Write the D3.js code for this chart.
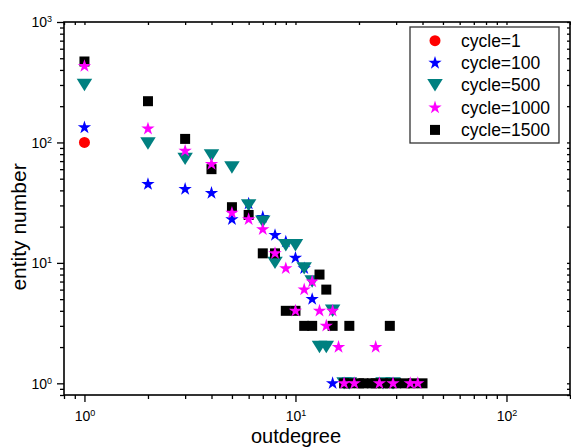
<!DOCTYPE html>
<html>
<head>
<meta charset="utf-8">
<script src="https://cdn.jsdelivr.net/npm/d3@7"></script>
<style>
body { margin: 0; background: #fff; }
text { font-family: "Liberation Sans", Arial, sans-serif; fill: #000; }
</style>
</head>
<body>
<script>
// series names, in legend order
var seriesNames = ["cycle=1", "cycle=100", "cycle=500", "cycle=1000", "cycle=1500"];

// [outdegree, entity number]
var cycle1 = [[1, 100]];
var cycle100 = [[1, 133], [2, 45], [3, 41], [4, 38], [5, 23], [6, 31], [7, 24], [8, 17],
  [9, 15], [10, 11], [11, 9], [12, 5], [15, 1]];
var cycle500 = [[1, 300], [2, 98], [3, 73], [4, 78], [5, 62], [6, 30], [7, 22], [8, 10],
  [9, 14], [10, 14], [11, 9], [12, 7], [13, 2], [14, 2], [15, 4], [17, 1], [18, 1], [26, 1], [29, 1]];
var cycle1000 = [[1, 430], [2, 130], [3, 85], [4, 66], [5, 26], [6, 23], [7, 19], [8, 12],
  [9, 9], [10, 4], [11, 6], [12, 7], [13, 4], [14, 3], [15, 4], [16, 2], [17, 1], [19, 1],
  [24, 2], [25, 1], [29, 1], [35, 1], [38, 1]];
var cycle1500 = [[1, 470], [2, 220], [3, 107], [4, 60], [5, 29], [6, 25], [7, 12], [8, 12],
  [9, 4], [10, 4], [11, 3], [12, 3], [13, 8], [14, 6], [15, 3], [18, 3], [28, 3],
  [17, 1], [18, 1], [20, 1], [21, 1], [23, 1], [24, 1], [26, 1], [28, 1], [30, 1], [33, 1], [36, 1], [40, 1]];

var xMajor = [1, 10, 100];
var xMinor = [0.8, 0.9, 2, 3, 4, 5, 6, 7, 8, 9, 20, 30, 40, 50, 60, 70, 80, 90, 200];
var yMajor = [1, 10, 100, 1000];
var yMinor = [0.8, 0.9, 2, 3, 4, 5, 6, 7, 8, 9, 20, 30, 40, 50, 60, 70, 80, 90,
  200, 300, 400, 500, 600, 700, 800, 900];

var svgW = 571, svgH = 447;
var margin = {top: 22, right: 1, bottom: 52, left: 64},
    width = svgW - margin.left - margin.right,
    height = svgH - margin.top - margin.bottom;

var svg = d3.select("body").append("svg")
    .attr("width", svgW)
    .attr("height", svgH);

var g = svg.append("g")
    .attr("transform", "translate(" + margin.left + "," + margin.top + ")");

var x = d3.scaleLog().domain([0.8, 200]).range([0, width]);
var y = d3.scaleLog().domain([0.8, 1000]).range([height, 0]);

// down-pointing triangle, centred on its box
var triDown = {
  draw: function(ctx, size) {
    var w = Math.sqrt(size * 1.6), h = w * 0.8;
    ctx.moveTo(-w / 2, -h / 2);
    ctx.lineTo(w / 2, -h / 2);
    ctx.lineTo(0, h / 2);
    ctx.closePath();
  }
};

var styles = {
  "cycle=1":    {data: cycle1,    type: d3.symbolCircle, size: 95,  color: "#ff0000"},
  "cycle=100":  {data: cycle100,  type: d3.symbolStar,   size: 55,  color: "#0000ff"},
  "cycle=500":  {data: cycle500,  type: triDown,         size: 150, color: "#008080"},
  "cycle=1000": {data: cycle1000, type: d3.symbolStar,   size: 55,  color: "#ff00ff"},
  "cycle=1500": {data: cycle1500, type: d3.symbolSquare, size: 100, color: "#000000"}
};

// drawing order (magenta sits on top)
var drawOrder = ["cycle=1", "cycle=100", "cycle=500", "cycle=1500", "cycle=1000"];

function supLabel(sel, anchor) {
  sel.each(function(d) {
    var t = d3.select(this).text("10").attr("text-anchor", anchor);
    t.append("tspan")
      .attr("dy", "-0.55em")
      .attr("font-size", "9px")
      .text(Math.round(Math.log10(d)));
  });
}

// axes
var xAxis = g.append("g")
    .attr("transform", "translate(0," + height + ")")
    .call(d3.axisBottom(x).tickValues(xMajor).tickSize(7).tickSizeOuter(0).tickFormat(""));
xAxis.selectAll(".tick text")
    .attr("y", 16)
    .attr("dy", "0.71em")
    .attr("font-size", "14px")
    .call(supLabel, "middle");

g.append("g")
    .attr("transform", "translate(0," + height + ")")
    .call(d3.axisBottom(x).tickValues(xMinor).tickSize(4).tickSizeOuter(0).tickFormat(""));

var yAxis = g.append("g")
    .call(d3.axisLeft(y).tickValues(yMajor).tickSize(7).tickSizeOuter(0).tickFormat(""));
yAxis.selectAll(".tick text")
    .attr("x", -12)
    .attr("dy", "0.35em")
    .attr("font-size", "14px")
    .call(supLabel, "end");

g.append("g")
    .call(d3.axisLeft(y).tickValues(yMinor).tickSize(4).tickSizeOuter(0).tickFormat(""));

g.append("g")
    .call(d3.axisTop(x).tickValues(xMajor.concat(xMinor)).tickSize(-3).tickSizeOuter(0).tickFormat(""));
g.append("g")
    .attr("transform", "translate(" + width + ",0)")
    .call(d3.axisRight(y).tickValues(yMajor.concat(yMinor)).tickSize(-3).tickSizeOuter(0).tickFormat(""));

g.selectAll(".domain").remove();
g.selectAll(".tick line").attr("stroke", "#000").attr("stroke-width", 1.3);

g.append("rect")
    .attr("width", width)
    .attr("height", height)
    .attr("fill", "none")
    .attr("stroke", "#000")
    .attr("stroke-width", 1.6);

// points
drawOrder.forEach(function(name) {
  var s = styles[name];
  g.append("g").selectAll("path")
    .data(s.data)
    .enter().append("path")
      .attr("transform", function(d) { return "translate(" + x(d[0]) + "," + y(d[1]) + ")"; })
      .attr("d", d3.symbol().type(s.type).size(s.size))
      .attr("fill", s.color);
});

// axis titles
svg.append("text")
    .attr("x", 296)
    .attr("y", 443)
    .attr("text-anchor", "middle")
    .attr("font-size", "20px")
    .text("outdegree");

svg.append("text")
    .attr("transform", "translate(19,227) rotate(-90)")
    .attr("dy", "0.35em")
    .attr("text-anchor", "middle")
    .attr("font-size", "21px")
    .text("entity number");

// legend
var legend = svg.append("g").attr("transform", "translate(410,27)");
legend.append("rect")
    .attr("width", 149)
    .attr("height", 116)
    .attr("fill", "#fff")
    .attr("stroke", "#333")
    .attr("stroke-width", 1.3);

var item = legend.selectAll(".item")
    .data(seriesNames)
    .enter().append("g")
    .attr("transform", function(d, i) { return "translate(0," + (13.7 + i * 22.3) + ")"; });

item.append("path")
    .attr("transform", "translate(25,0)")
    .attr("d", function(d) { return d3.symbol().type(styles[d].type).size(styles[d].size)(); })
    .attr("fill", function(d) { return styles[d].color; });

item.append("text")
    .attr("x", 51)
    .attr("dy", "0.35em")
    .attr("font-size", "17.5px")
    .text(function(d) { return d; });
</script>
</body>
</html>
